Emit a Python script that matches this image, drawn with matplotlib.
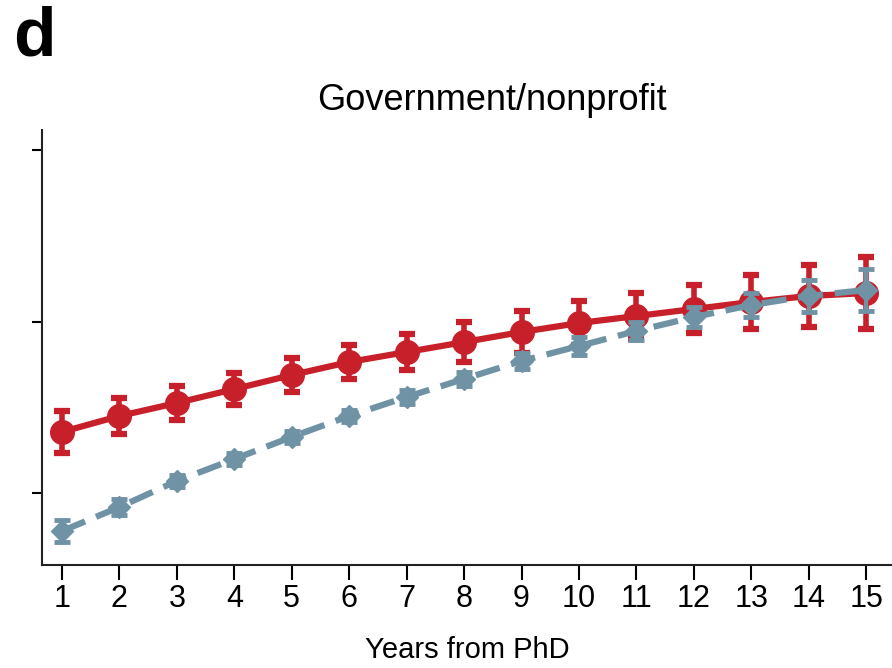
import matplotlib
matplotlib.use("Agg")
import matplotlib.pyplot as plt
import numpy as np

years = list(range(1, 16))
red_vals = [0.356, 0.449, 0.525, 0.606, 0.688, 0.764, 0.822, 0.880, 0.939, 0.991, 1.032, 1.073, 1.114, 1.149, 1.166]
red_err = [0.122, 0.105, 0.099, 0.093, 0.099, 0.099, 0.105, 0.117, 0.122, 0.128, 0.134, 0.140, 0.157, 0.181, 0.210]
blue_vals = [-0.222, -0.082, 0.070, 0.198, 0.327, 0.449, 0.560, 0.665, 0.770, 0.857, 0.945, 1.026, 1.096, 1.149, 1.184]
blue_err = [0.064, 0.047, 0.035, 0.035, 0.035, 0.035, 0.041, 0.041, 0.047, 0.052, 0.052, 0.058, 0.070, 0.093, 0.122]
y_ticks = [0, 1, 2]

plt.rcParams['font.family'] = ['Liberation Sans', 'DejaVu Sans']

RED = '#C8202B'
BLUE = '#6F93A5'

fig = plt.figure(figsize=(8.92, 6.68), dpi=100)
ax = fig.add_axes([42/892, 1 - 565/668, 850/892, (565-130)/668])

ax.errorbar(years, red_vals, yerr=red_err, color=RED, lw=4.5, marker='o', ms=17,
            capsize=6, capthick=4.5, elinewidth=4, zorder=3)
l = ax.errorbar(years, blue_vals, yerr=blue_err, color=BLUE, lw=4.5, marker='D', ms=11,
                capsize=6, capthick=3.5, elinewidth=3, zorder=4)
l[0].set_linestyle((0, (4.0, 1.9)))

ax.set_xlim(0.652, 15.45)
ax.set_ylim(-0.42, 2.117)
ax.set_xticks(years)
ax.set_xticklabels([str(y) for y in years], fontsize=22)
ax.set_yticks(y_ticks)
ax.set_yticklabels([])
ax.tick_params(axis='x', length=11, width=1.5, pad=3, direction='out')
ax.tick_params(axis='y', length=7, width=1.5, direction='out')
for s in ['top', 'right']:
    ax.spines[s].set_visible(False)
for s in ['left', 'bottom']:
    ax.spines[s].set_linewidth(1.5)
    ax.spines[s].set_color('#222222')

fig.text(467/892, 1 - 650/668, 'Years from PhD', fontsize=21, ha='center', va='center')
fig.text(492/892, 1 - 100/668, 'Government/nonprofit', fontsize=26, ha='center', va='center')
fig.text(13/892, 1 - 38/668, 'd', fontsize=50, fontweight='bold', ha='left', va='center')

fig.savefig('out.png', dpi=100)
